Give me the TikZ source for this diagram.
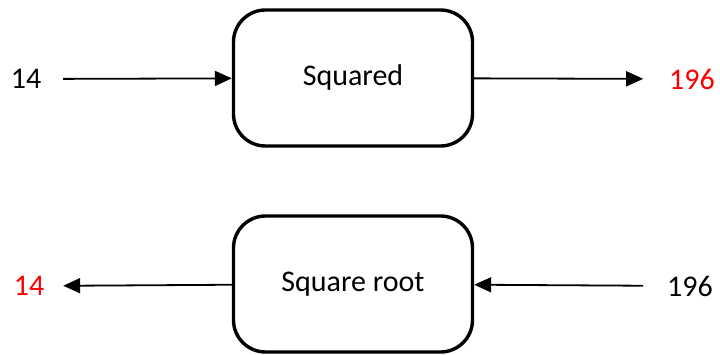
\documentclass[tikz,border=0pt]{standalone}
\usepackage{fontspec}
\setmainfont{Carlito}
\usetikzlibrary{arrows.meta}

\tikzset{
  procbox/.style={draw, line width=3.4pt, rounded corners=32pt,
    minimum width=239pt, minimum height=136pt, inner sep=0pt},
  numtext/.style={inner sep=0pt},
  flow/.style={line width=1.8pt, -{Triangle[length=17pt, width=15pt]}},
}

\begin{document}
\begin{tikzpicture}[x=1pt, y=-1pt, font=\fontsize{30}{36}\selectfont]

\useasboundingbox (0,0) rectangle (720,355);

% squared
\node[procbox] (sq) at (353,78) {Squared};
\node[numtext, outer sep=22pt] (sqin) at (26,79) {14};
\node[numtext, outer sep=26pt, text=red] (sqout) at (692,79) {196};
\draw[flow] (sqin) -- (sq);
\draw[flow] (sq) -- (sqout);

% square root
\node[procbox] (rt) at (353,284) {Square root};
\node[numtext, outer sep=24pt] (rtin) at (690,286) {196};
\node[numtext, outer sep=19pt, text=red] (rtout) at (29,286) {14};
\draw[flow] (rtin) -- (rt);
\draw[flow] (rt) -- (rtout);

\end{tikzpicture}
\end{document}
